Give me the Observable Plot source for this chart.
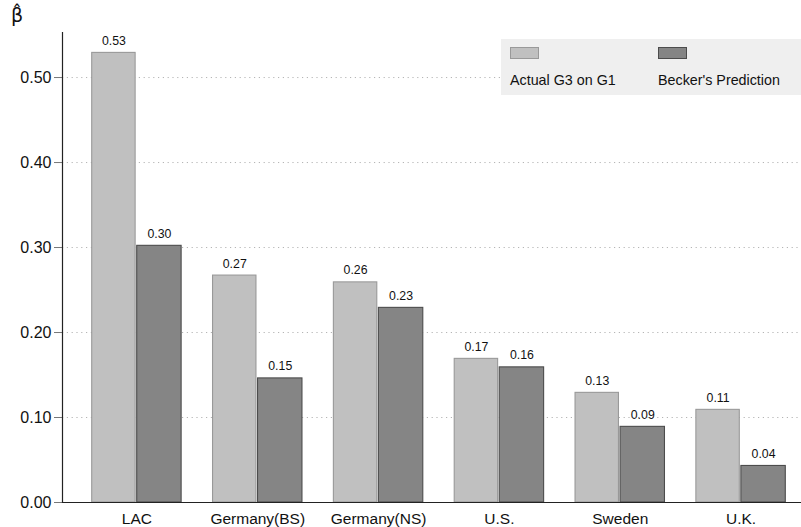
<!DOCTYPE html>
<html>
<head>
<meta charset="utf-8">
<script src="https://cdn.jsdelivr.net/npm/d3@7"></script>
<script src="https://cdn.jsdelivr.net/npm/@observablehq/plot@0.6"></script>
<style>
  body { margin: 0; background: #fff; font-family: "Liberation Sans", Arial, Helvetica, sans-serif; }
  #wrap { position: relative; width: 801px; height: 527px; }
  #ylab { position: absolute; left: 11px; top: 6px; font-size: 19px; line-height: 19px; color: #111; font-family: "DejaVu Sans", sans-serif; }
  #legend { position: absolute; left: 501px; top: 39px; width: 300px; height: 56px; background: #efefef; }
  .sw { position: absolute; top: 8px; width: 27px; height: 10px; }
  .lt { position: absolute; top: 34px; font-size: 14.3px; line-height: 14px; color: #111; white-space: nowrap; }
</style>
</head>
<body>
<div id="wrap"><div id="ylab"></div><div id="legend"></div></div>
<script>
const countries = ["LAC", "Germany(BS)", "Germany(NS)", "U.S.", "Sweden", "U.K."];
const actual = [0.529, 0.267, 0.259, 0.169, 0.129, 0.109];
const becker = [0.302, 0.146, 0.229, 0.159, 0.089, 0.043];
const seriesNames = ["Actual G3 on G1", "Becker's Prediction"];
const yTicks = [0, 0.1, 0.2, 0.3, 0.4, 0.5];
const yLabel = "\u03B2\u0302";

const fills = ["#c0c0c0", "#858585"];
const strokes = ["#999999", "#4c4c4c"];

const data = countries.map((c, i) => ({country: c, actual: actual[i], becker: becker[i]}));
const fmt = d3.format(".2f");
const font = "Liberation Sans, Arial, Helvetica, sans-serif";

const chart = Plot.plot({
  width: 801,
  height: 527,
  marginLeft: 62,
  marginRight: 0,
  marginTop: 32,
  marginBottom: 25,
  style: {fontFamily: font, color: "#111", background: "transparent"},
  x: {type: "band", domain: countries, insetLeft: 14, paddingInner: 0.26, paddingOuter: 0.13, round: false, axis: null, label: null},
  y: {domain: [0, 0.553], axis: null, label: null},
  marks: [
    Plot.ruleY(yTicks.slice(1), {stroke: "#b4b4b4", strokeDasharray: "1.2,3.6", strokeWidth: 1}),
    Plot.barY(data, {x: "country", y: "actual", fill: fills[0], stroke: strokes[0], strokeWidth: 1.1, insetRight: 46}),
    Plot.barY(data, {x: "country", y: "becker", fill: fills[1], stroke: strokes[1], strokeWidth: 1.1, insetLeft: 45}),
    Plot.text(data, {x: "country", y: "actual", text: d => fmt(d.actual), dx: -23, dy: -8, lineAnchor: "bottom", fontSize: 12.3, fill: "#111"}),
    Plot.text(data, {x: "country", y: "becker", text: d => fmt(d.becker), dx: 22.5, dy: -8, lineAnchor: "bottom", fontSize: 12.3, fill: "#111"}),
    Plot.axisY(yTicks, {tickFormat: ".2f", tickSize: 8, tickPadding: 3, fontSize: 16, stroke: "#777", fill: "#111", label: null}),
    Plot.axisX({tickSize: 0, tickPadding: 10, fontSize: 15.5, fill: "#111", label: null}),
    Plot.ruleY([0], {stroke: "#222", strokeWidth: 1.2}),
    Plot.frame({anchor: "left", stroke: "#222", strokeWidth: 1.2})
  ]
});
document.getElementById("wrap").appendChild(chart);
chart.style.position = "absolute";
chart.style.left = "0";
chart.style.top = "0";
document.getElementById("ylab").textContent = yLabel;
document.getElementById("wrap").appendChild(document.getElementById("ylab"));

const legend = document.getElementById("legend");
document.getElementById("wrap").appendChild(legend);
const legendX = [9, 157];
seriesNames.forEach((name, i) => {
  const sw = document.createElement("div");
  sw.className = "sw";
  sw.style.left = legendX[i] + "px";
  sw.style.background = fills[i];
  sw.style.border = "1px solid " + strokes[i];
  legend.appendChild(sw);
  const t = document.createElement("div");
  t.className = "lt";
  t.style.left = legendX[i] + "px";
  t.textContent = name;
  legend.appendChild(t);
});
</script>
</body>
</html>
